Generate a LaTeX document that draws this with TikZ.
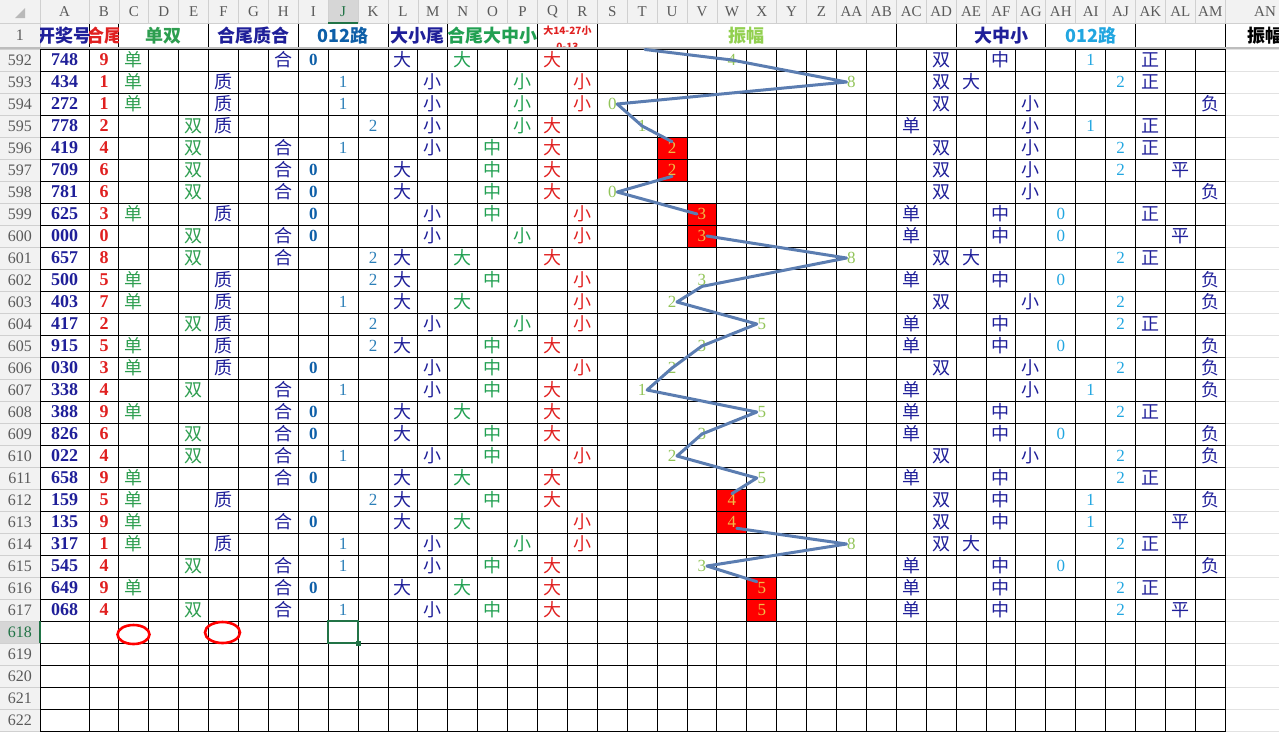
\documentclass[tikz,border=0pt]{standalone}
\usepackage{fontspec}
\setmainfont{Liberation Serif}
\newfontfamily\cjk{Noto Sans CJK SC}
\usetikzlibrary{shapes.geometric}
\definecolor{dblue}{HTML}{1F1F99}
\definecolor{sgreen}{HTML}{2E9E50}
\definecolor{ngreen}{HTML}{22A052}
\definecolor{cred}{HTML}{E02020}
\definecolor{zblue}{HTML}{0E5FA8}
\definecolor{jblue}{HTML}{2C7FB8}
\definecolor{cyanb}{HTML}{22A6E0}
\definecolor{ampgreen}{HTML}{92C459}
\definecolor{ampyellow}{HTML}{F0BC48}
\definecolor{ampline}{HTML}{5B7DB1}
\definecolor{boxred}{HTML}{FF0000}
\definecolor{hdrbg}{HTML}{F2F2F2}
\definecolor{hdrline}{HTML}{D0D0D0}
\definecolor{hdrtext}{HTML}{5A5A5A}
\definecolor{selgreen}{HTML}{217346}
\definecolor{selbg}{HTML}{D6D6D6}
\definecolor{anline}{HTML}{E2E2E2}
\definecolor{frzline}{HTML}{BDBDBD}
\definecolor{zhenfu}{HTML}{92D050}
\newcommand{\fsz}[1]{\fontsize{#1}{#1}\selectfont}
\newcommand{\putcell}[5]{%
  \pgfmathsetmacro\cellx{89+(#1-2)*29.9+14.95}%
  \node[#3] (#4) at (\cellx,#2) {#5};}
\begin{document}
\begin{tikzpicture}[x=1pt,y=-1pt,
  every node/.style={inner sep=1pt},
  colhdr/.style={font=\fsz{15}},
  rowhdr/.style={font=\fsz{16}},
  numtxt/.style={font=\bfseries\fsz{18}, text=dblue},
  tailtxt/.style={font=\bfseries\fsz{18}, text=cred},
  sdtxt/.style={font=\cjk\fsz{18}, text=sgreen},
  dbtxt/.style={font=\cjk\fsz{18}, text=dblue},
  dztxt/.style={font=\cjk\fsz{18}, text=ngreen},
  qrtxt/.style={font=\cjk\fsz{18}, text=cred},
  zerotxt/.style={font=\bfseries\fsz{17}, text=zblue},
  onetxt/.style={font=\fsz{17}, text=jblue},
  rbtxt/.style={font=\fsz{17}, text=cyanb},
  ampnorm/.style={font=\fsz{17}, text=ampgreen, inner sep=0.5pt},
  ampred/.style={font=\fsz{17}, text=ampyellow, inner sep=0.5pt},
  ampln/.style={draw=ampline, line width=3pt, line cap=round, line join=round},
  gridl/.style={draw=black, line width=0.9pt},
  hdrsep/.style={draw=hdrline, line width=0.8pt},
  htxt/.style={font=\cjk\bfseries\fsz{18}},
  redell/.style={draw=red, line width=2.6pt, ellipse, inner sep=0pt}
]
\useasboundingbox (0,0) rectangle (1279,732);
% header backgrounds
\fill[hdrbg] (0,0) rectangle (1279,23.5);
\fill[hdrbg] (0,23.5) rectangle (40,732);
\fill[selbg] (328.2,0) rectangle (358.1,23.5);
\fill[selbg] (0,621) rectangle (40,643);
% red boxes of the amplitude chart
\foreach \c/\r in {21/4,22/7,23/20,24/24}
  \fill[boxred] ({89+(\c-2)*29.9},{49+\r*22}) rectangle ({89+(\c-1)*29.9},{49+(\r+2)*22});
% header separators
\foreach \k in {0,...,38} \draw[hdrsep] ({89+\k*29.9},0) -- ({89+\k*29.9},23.5);
\draw[hdrsep] (40,0) -- (40,49);
\draw[hdrsep] (0,23.5) -- (1279,23.5);
\foreach \j in {0,...,31} \draw[hdrsep] (0,{49+\j*22}) -- (40,{49+\j*22});
\foreach \j in {0,...,31} \draw[draw=anline, line width=0.8pt] (1225.2,{49+\j*22}) -- (1279,{49+\j*22});
% frozen pane line
\fill[frzline] (0,46.5) rectangle (1279,49);
% grid
\foreach \k in {0,...,38} \draw[gridl] ({89+\k*29.9},49) -- ({89+\k*29.9},732);
\draw[gridl] (40,49) -- (40,732);
\foreach \j in {0,...,31} \draw[gridl] (40,{49+\j*22}) -- (1225.2,{49+\j*22});
\foreach \x in {89,118.9,208.6,298.3,388,447.8,537.5,597.3,896.3,956.1,1045.8,1135.5,1225.2}
  \draw[gridl] (\x,23.5) -- (\x,46.5);
% selection marks in headers
\draw[selgreen, line width=2pt] (328.2,22.5) -- (358.1,22.5);
\draw[selgreen, line width=2pt] (39.5,621) -- (39.5,643);
% corner triangle
\fill[gray!55] (25,8) -- (25,18) -- (15,18) -- cycle;
% column letters
\node[colhdr, text=hdrtext] (hA) at (64.5,12) {A};
\foreach \L [count=\k from 2] in {B,C,D,E,F,G,H,I,J,K,L,M,N,O,P,Q,R,S,T,U,V,W,X,Y,Z,AA,AB,AC,AD,AE,AF,AG,AH,AI,AJ,AK,AL,AM}{
  \ifnum\k=10 \def\hc{selgreen}\else\def\hc{hdrtext}\fi
  \node[colhdr, text=\hc] (h\L) at ({89+(\k-2)*29.9+14.95},12) {\L};
}
\node[colhdr, text=hdrtext] (hAN) at (1265,12) {AN};
% row numbers
\node[rowhdr, text=hdrtext] (rn1) at (20,35.5) {1};
\foreach \j in {0,...,30}{
  \pgfmathtruncatemacro\rn{592+\j}
  \ifnum\rn=618 \def\hc{selgreen}\else\def\hc{hdrtext}\fi
  \node[rowhdr, text=\hc] (rn\rn) at (20,{60+\j*22}) {\rn};
}
% header row 1
\begin{scope}
  \clip (40,23.5) rectangle (89,46.5);
  \node[htxt, text=dblue] (tA) at (64.5,35.5) {开奖号};
\end{scope}
\begin{scope}
  \clip (89,23.5) rectangle (118.9,46.5);
  \node[htxt, text=cred] (tB) at (104,35.5) {合尾};
\end{scope}
\node[htxt, text=sgreen] (tCE) at (163.7,35.5) {单双};
\node[htxt, text=dblue] (tFH) at (253.5,35.5) {合尾质合};
\node[htxt, text=zblue] (tIK) at (343.2,35.5) {012路};
\node[htxt, text=dblue] (tLM) at (417.9,35.5) {大小尾};
\node[htxt, text=ngreen, inner sep=0pt] (tNP) at (492.6,35.5) {合尾大中小};
\begin{scope}
  \clip (537.5,23.5) rectangle (597.3,46.5);
  \node[font=\cjk\bfseries\fontsize{10}{16}\selectfont, text=cred, align=center] (tQR) at (567.4,38.5) {大14-27小\\0-13};
\end{scope}
\node[htxt, text=zhenfu] (tSAB) at (746.8,35.5) {振幅};
\node[htxt, text=dblue] (tAEG) at (1001,35.5) {大中小};
\node[htxt, text=cyanb] (tAHJ) at (1090.6,35.5) {012路};
\node[htxt, text=black] (tAN) at (1265,35.5) {振幅};
% data rows
\foreach \vnum/\vb/\vsd/\vzh/\vr/\vdx/\vdz/\vqr/\vamp/\vred/\vsdb/\vdzb/\vrb/\vzf [count=\i from 0] in {
748/9/0/1/0/0/0/0/4/0/1/1/1/0,
434/1/0/0/1/1/2/1/8/0/1/0/2/0,
272/1/0/0/1/1/2/1/0/0/1/2/-1/2,
778/2/1/0/2/1/2/0/1/0/0/2/1/0,
419/4/1/1/1/1/1/0/2/1/1/2/2/0,
709/6/1/1/0/0/1/0/2/1/1/2/2/1,
781/6/1/1/0/0/1/0/0/0/1/2/-1/2,
625/3/0/0/0/1/1/1/3/1/0/1/0/0,
000/0/1/1/0/1/2/1/3/1/0/1/0/1,
657/8/1/1/2/0/0/0/8/0/1/0/2/0,
500/5/0/0/2/0/1/1/3/0/0/1/0/2,
403/7/0/0/1/0/0/1/2/0/1/2/2/2,
417/2/1/0/2/1/2/1/5/0/0/1/2/0,
915/5/0/0/2/0/1/0/3/0/0/1/0/2,
030/3/0/0/0/1/1/1/2/0/1/2/2/2,
338/4/1/1/1/1/1/0/1/0/0/2/1/2,
388/9/0/1/0/0/0/0/5/0/0/1/2/0,
826/6/1/1/0/0/1/0/3/0/0/1/0/2,
022/4/1/1/1/1/1/1/2/0/1/2/2/2,
658/9/0/1/0/0/0/0/5/0/0/1/2/0,
159/5/0/0/2/0/1/0/4/1/1/1/1/2,
135/9/0/1/0/0/0/1/4/1/1/1/1/1,
317/1/0/0/1/1/2/1/8/0/1/0/2/0,
545/4/1/1/1/1/1/0/3/0/0/1/0/2,
649/9/0/1/0/0/0/0/5/1/0/1/2/0,
068/4/1/1/1/1/1/0/5/1/0/1/2/1}{
  \pgfmathsetmacro\yy{60+\i*22}
  \node[numtxt] (num\i) at (64.5,\yy) {\vnum};
  \node[tailtxt] (tail\i) at (104,\yy) {\vb};
  \pgfmathtruncatemacro\ccol{3+2*\vsd}
  \putcell{\ccol}{\yy}{sdtxt}{sd\i}{\ifcase\vsd 单\or 双\fi}
  \pgfmathtruncatemacro\ccol{6+2*\vzh}
  \putcell{\ccol}{\yy}{dbtxt}{zh\i}{\ifcase\vzh 质\or 合\fi}
  \pgfmathtruncatemacro\ccol{9+\vr}
  \ifnum\vr=0 \def\rst{zerotxt}\else\def\rst{onetxt}\fi
  \putcell{\ccol}{\yy}{\rst}{lr\i}{\vr}
  \pgfmathtruncatemacro\ccol{12+\vdx}
  \putcell{\ccol}{\yy}{dbtxt}{dx\i}{\ifcase\vdx 大\or 小\fi}
  \pgfmathtruncatemacro\ccol{14+\vdz}
  \putcell{\ccol}{\yy}{dztxt}{dz\i}{\ifcase\vdz 大\or 中\or 小\fi}
  \pgfmathtruncatemacro\ccol{17+\vqr}
  \putcell{\ccol}{\yy}{qrtxt}{qr\i}{\ifcase\vqr 大\or 小\fi}
  \pgfmathtruncatemacro\ccol{19+\vamp}
  \ifnum\vred=1 \def\astyle{ampred}\else\def\astyle{ampnorm}\fi
  \putcell{\ccol}{\yy}{\astyle}{a\i}{\vamp}
  \pgfmathtruncatemacro\ccol{29+\vsdb}
  \putcell{\ccol}{\yy}{dbtxt}{sdb\i}{\ifcase\vsdb 单\or 双\fi}
  \pgfmathtruncatemacro\ccol{31+\vdzb}
  \putcell{\ccol}{\yy}{dbtxt}{dzb\i}{\ifcase\vdzb 大\or 中\or 小\fi}
  \ifnum\vrb>-1
    \pgfmathtruncatemacro\ccol{34+\vrb}
    \putcell{\ccol}{\yy}{rbtxt}{rb\i}{\vrb}
  \fi
  \pgfmathtruncatemacro\ccol{37+\vzf}
  \putcell{\ccol}{\yy}{dbtxt}{zf\i}{\ifcase\vzf 正\or 平\or 负\fi}
}
% amplitude polyline
\coordinate (ampin) at (645,49.5);
\draw[ampln] (ampin) -- (a0.center) -- (a1.west) -- (a2.east) -- (a3.center) -- (a4.north);
\draw[ampln] (a5.south) -- (a6.east) -- (a7.west);
\draw[ampln] (a8.east) -- (a9.west) -- (a10.south) -- (a11.east) -- (a12.west) -- (a13.center)
  -- (a14.center) -- (a15.east) -- (a16.west) -- (a17.center) -- (a18.east) -- (a19.west) -- (a20.north);
\draw[ampln] (a21.south east) -- (a22.west) -- (a23.east) -- (a24.north west);
% red ellipses
\node[redell, minimum width=32pt, minimum height=19pt] (ovC) at (133.5,634.5) {};
\node[redell, minimum width=35pt, minimum height=21pt] (ovF) at (222.5,632.5) {};
% selected cell J618
\draw[selgreen, line width=2pt] (328.2,621) rectangle (358.1,643);
\fill[selgreen] (355.6,640.5) rectangle (360.6,645.5);
\end{tikzpicture}
\end{document}
